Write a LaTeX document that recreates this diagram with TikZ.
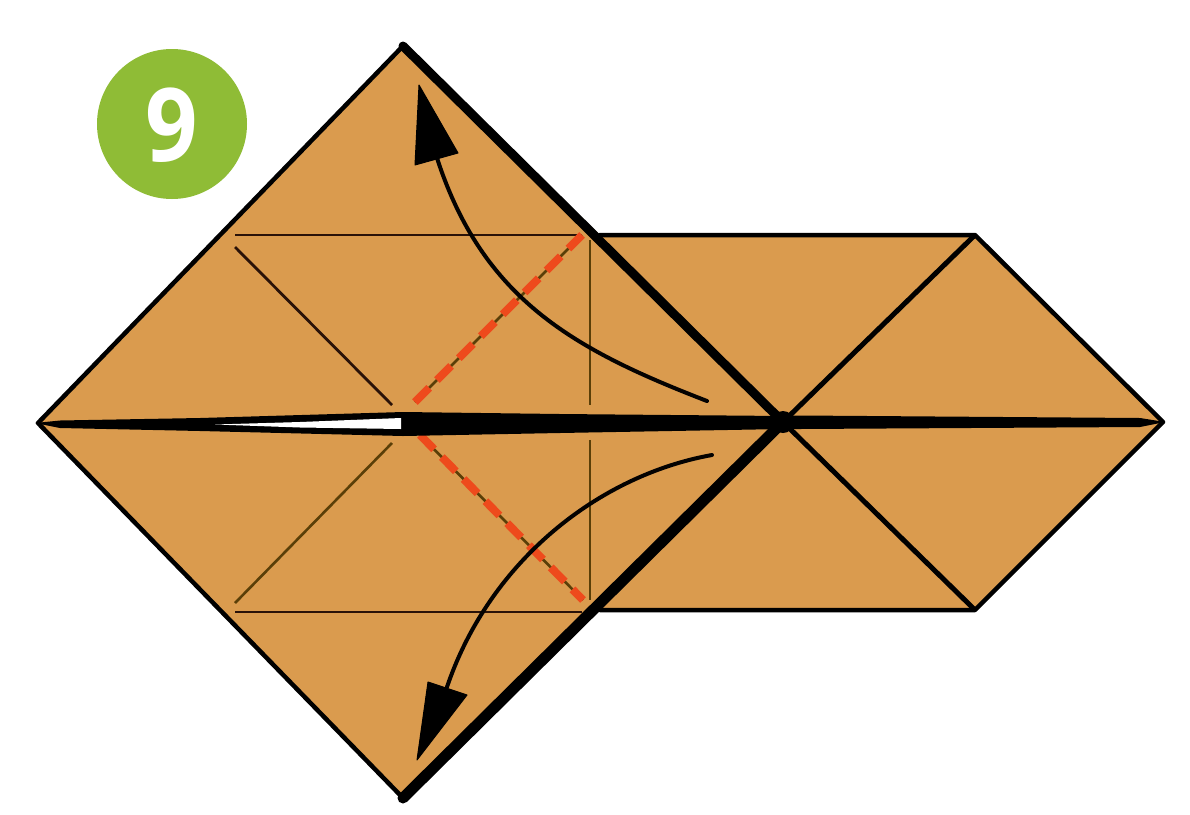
\documentclass[tikz,border=0pt]{standalone}
\usepackage{fontspec}
\setmainfont{Open Sans}
\definecolor{paper}{HTML}{DA9B4E}
\definecolor{badge}{HTML}{8FBC36}
\definecolor{crease}{HTML}{2A1208}
\definecolor{olive}{HTML}{5A3F08}
\definecolor{valley}{HTML}{EE4A1C}
\tikzset{
  edge/.style={draw=black,line width=4.5pt,line cap=round,line join=round},
  heavy/.style={draw=black,line width=11pt,line cap=round},
  foldline/.style={draw=crease,line width=2.8pt},
  oliveline/.style={draw=olive,line width=2.6pt},
  valleyline/.style={draw=valley,line width=8pt,dash pattern=on 20pt off 11pt},
  movearrow/.style={draw=black!90!crease,line width=4pt,line cap=round},
  headtip/.style={fill=black,draw=black,line width=1pt,line join=round},
  badgecircle/.style={circle,fill=badge,minimum size=150pt,inner sep=0pt},
}
\begin{document}
\begin{tikzpicture}[x=1pt,y=-1pt]
\useasboundingbox (0,0) rectangle (1190,814);
\fill[white] (0,0) rectangle (1190,814);
% key points
\coordinate (T) at (403,46);
\coordinate (L) at (38,423);
\coordinate (B) at (403,798);
\coordinate (C) at (783,422);
\coordinate (R) at (1163,422);
\coordinate (RT) at (975,235);
\coordinate (RB) at (975,610);
\coordinate (JT) at (600,235);
\coordinate (JB) at (600,610);
% paper
\fill[paper] (T) -- (JT) -- (RT) -- (R) -- (RB) -- (JB) -- (B) -- (L) -- cycle;
% thin creases
\coordinate (h1a) at (235,235); \coordinate (h1b) at (582,235);
\coordinate (h2a) at (235,612); \coordinate (h2b) at (582,612);
\coordinate (d1a) at (235,247); \coordinate (d1b) at (392,405);
\coordinate (d2a) at (235,603); \coordinate (d2b) at (392,443);
\coordinate (v1a) at (590,240); \coordinate (v1b) at (590,405);
\coordinate (v2a) at (590,440); \coordinate (v2b) at (590,600);
\coordinate (m1a) at (415,402); \coordinate (m1b) at (582,235);
\coordinate (m2a) at (420,435); \coordinate (m2b) at (583,600);
\draw[foldline] (h1a) -- (h1b);
\draw[foldline] (h2a) -- (h2b);
\draw[foldline] (d1a) -- (d1b);
\draw[oliveline] (d2a) -- (d2b);
\draw[oliveline] (v1a) -- (v1b);
\draw[oliveline] (v2a) -- (v2b);
\draw[oliveline] (m1a) -- (m1b);
\draw[oliveline] (m2a) -- (m2b);
\draw[valleyline] (m1a) -- (m1b);
\draw[valleyline] (m2a) -- (m2b);
% outline
\draw[edge] (T) -- (L) -- (B);
\draw[edge] (JT) -- (RT) -- (R) -- (RB) -- (JB);
\draw[draw=black,line width=5pt] (RT) -- (C) -- (RB);
\draw[draw=black,line width=9pt,line cap=round] (T) -- (C);
\draw[heavy] (B) -- (C);
% spine
\fill[black] (35,423) -- (60,420.5) -- (200,418) -- (403,412) -- (560,414) -- (783,416) -- (800,415.5) -- (1140,418) -- (1165,422)
  -- (1140,427) -- (800,429) -- (783,429) -- (560,433) -- (403,436) -- (200,431) -- (60,428) -- cycle;
\fill[white] (215,424.5) -- (300,422) -- (401,418) -- (401,429) -- (300,427.5) -- cycle;
\fill[black] (783,422) circle (11pt);
% arrows
\coordinate (a1s) at (707,401); \coordinate (a1e) at (437,158);
\coordinate (a2s) at (712,455); \coordinate (a2e) at (447,687);
\draw[movearrow] (a1s) .. controls (575,350) and (483,300) .. (a1e);
\draw[movearrow] (a2s) .. controls (600,475) and (490,560) .. (a2e);
\coordinate (t1) at (419,85); \coordinate (t1a) at (415,165); \coordinate (t1b) at (458,153);
\coordinate (t2) at (417,760); \coordinate (t2a) at (428,682); \coordinate (t2b) at (467,695);
\filldraw[headtip] (t1) -- (t1a) -- (t1b) -- cycle;
\filldraw[headtip] (t2) -- (t2a) -- (t2b) -- cycle;
% badge
\node[badgecircle] (badge) at (172,124) {};
\node[text=white,font=\fontsize{102}{102}\selectfont\bfseries,inner sep=0pt,xscale=.9] (num) at (172,125) {9};
\end{tikzpicture}
\end{document}
